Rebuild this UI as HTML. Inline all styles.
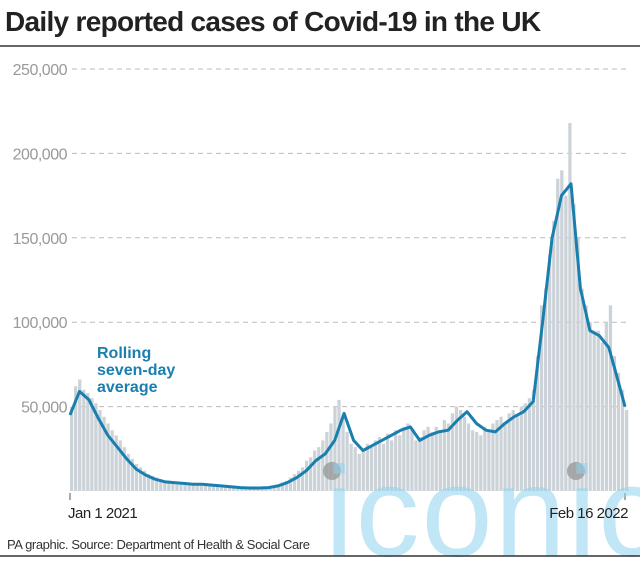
<!DOCTYPE html>
<html><head><meta charset="utf-8"><style>
body{margin:0;background:#fff;width:640px;height:561px;overflow:hidden;font-family:"Liberation Sans",sans-serif}
</style></head><body>
<svg width="640" height="561" font-family="Liberation Sans, sans-serif">
<text x="5" y="31" font-size="28" font-weight="bold" fill="#222" letter-spacing="-0.7">Daily reported cases of Covid-19 in the UK</text>
<line x1="0" y1="46" x2="640" y2="46" stroke="#333" stroke-width="1.5"/>
<g id="grid"></g>
<g id="bars"></g>
<path id="avg" fill="none" stroke="#1a7fae" stroke-width="3" stroke-linejoin="round"/>
<circle cx="332" cy="471" r="9" fill="#9a9a9a" opacity="0.8"/>
<circle cx="576" cy="471" r="9" fill="#9a9a9a" opacity="0.8"/>
<text x="97" y="358" font-size="16" font-weight="bold" fill="#1a7fae"><tspan x="97">Rolling</tspan><tspan x="97" dy="17">seven-day</tspan><tspan x="97" dy="17">average</tspan></text>
<line x1="70" y1="493" x2="70" y2="500" stroke="#555"/>
<line x1="625" y1="493" x2="625" y2="500" stroke="#555"/>
<text x="325" y="556" font-size="128" fill="#8fd3f0" opacity="0.55" letter-spacing="2">iconic</text>
<text x="68" y="518" font-size="15" fill="#222" letter-spacing="-0.5">Jan 1 2021</text>
<text x="628" y="518" font-size="15" fill="#222" text-anchor="end" letter-spacing="-0.5">Feb 16 2022</text>
<text x="7" y="549" font-size="13" fill="#333" letter-spacing="-0.4">PA graphic. Source: Department of Health &amp; Social Care</text>
<line x1="0" y1="556" x2="640" y2="556" stroke="#333" stroke-width="1.5"/>
</svg>
<script>
const yTicks=[50000,100000,150000,200000,250000];
const yTickLabels=["50,000","100,000","150,000","200,000","250,000"];
const avgDays=[0,7,14,21,28,35,42,49,56,63,70,77,84,91,98,105,112,119,126,133,140,147,154,161,168,175,182,189,196,203,210,217,224,231,238,245,252,259,266,273,280,287,294,301,308,315,322,329,336,343,350,357,364,371,378,385,392,399,406,411];
const avgValues=[45,59,54,43,33,26,19,13,9.5,7,5.5,5,4.5,4,4,3.5,3,2.5,2,1.8,1.8,2,3,5,8,12,18,22,30,46,30,24,27,30,33,36,38,30,33,35,36,42,47,40,36,35,40,44,47,53,100,150,175,182,120,95,92,85,65,50];
const barValues=[50,62,66,60,58,55,52,48,44,40,36,33,30,26,22,19,16,14,12,10,9,8,7,6,6,5.5,5,5,5,4.5,4.5,4,4,4,4,3.5,3.5,3,3,2.5,2.5,2.2,2,2,1.8,1.8,2,2,2.2,2.5,3,4,5,6,8,10,12,14,18,20,24,26,30,35,40,50,54,45,35,28,26,22,25,28,26,30,32,28,34,30,36,33,38,40,36,30,32,36,38,35,38,36,42,40,46,50,48,44,40,36,35,33,38,36,40,42,44,40,46,48,45,50,52,55,60,80,110,120,140,160,185,190,175,218,170,150,120,110,100,95,95,88,100,110,80,70,60,48];
const barStep=3;
const X=d=>70+d*(555/411);
const Y=v=>491-v*(84.4/50000);
const NS="http://www.w3.org/2000/svg";
const grid=document.getElementById('grid');
yTicks.forEach((t,i)=>{
  const l=document.createElementNS(NS,'line');
  l.setAttribute('x1',72);l.setAttribute('x2',628);l.setAttribute('y1',Y(t));l.setAttribute('y2',Y(t));
  l.setAttribute('stroke','#bbb');l.setAttribute('stroke-dasharray','5,4');
  
  
  grid.appendChild(l);
  const tx=document.createElementNS(NS,'text');
  tx.setAttribute('x',67);tx.setAttribute('y',Y(t)+6);tx.setAttribute('text-anchor','end');
  tx.setAttribute('font-size','16');tx.setAttribute('fill','#999');tx.setAttribute('letter-spacing','-0.5');
  tx.textContent=yTickLabels[i];
  
  
  grid.appendChild(tx);
});
const bars=document.getElementById('bars');
const bw=X(barStep)-X(0);
barValues.forEach((v,i)=>{
  const r=document.createElementNS(NS,'rect');
  r.setAttribute('x',X(i*barStep));r.setAttribute('width',bw-0.8);
  r.setAttribute('y',Y(v*1000));r.setAttribute('height',491-Y(v*1000));
  r.setAttribute('fill','#ccd3d8');
  
  
  bars.appendChild(r);
});
let d='';
avgDays.forEach((day,i)=>{d+=(i?'L':'M')+X(day).toFixed(1)+','+Y(avgValues[i]*1000).toFixed(1);});
document.getElementById('avg').setAttribute('d',d);
</script>
</body></html>
